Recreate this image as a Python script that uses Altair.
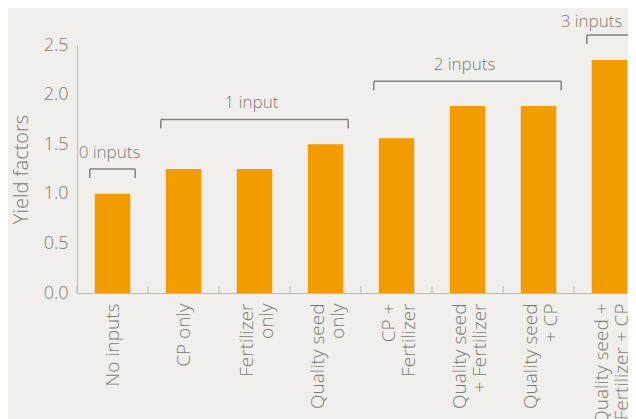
import altair as alt
import pandas as pd

# ---- data ----
categories = [
    "No inputs",
    "CP only",
    "Fertilizer|only",
    "Quality seed|only",
    "CP +|Fertilizer",
    "Quality seed|+ Fertilizer",
    "Quality seed|+ CP",
    "Quality seed +|Fertilizer + CP",
]
yield_factors = [1.0, 1.25, 1.25, 1.5, 1.56, 1.885, 1.885, 2.35]

group_labels = ["0 inputs", "1 input", "2 inputs", "3 inputs"]
group_first = [0, 1, 4, 7]
group_last = [0, 3, 6, 7]

# ---- styling ----
BG = "#F0EFEC"
ORANGE = "#F39C00"
TEXT = "#7D7B72"
AXIS = "#BDBBB5"
BRACKET = "#85837A"
FONT = "Open Sans"

bars_df = pd.DataFrame({"cat": categories, "value": yield_factors})

rows = []
for lab, a, b in zip(group_labels, group_first, group_last):
    lvl = max(yield_factors[a:b + 1]) + 0.25
    rows.append({
        "label": lab,
        "first": categories[a],
        "last": categories[b],
        "mid": categories[(a + b) // 2],
        "level": lvl,
        "tick_end": lvl - 0.09,
    })
groups_df = pd.DataFrame(rows)

xs = alt.Scale(domain=categories, paddingInner=0, paddingOuter=0)
ys = alt.Scale(domain=[0, 2.5])

xaxis = alt.Axis(title=None, labelAngle=-90, labelExpr="split(datum.label, '|')",
                 ticks=False, labelPadding=10, domainColor=AXIS,
                 labelFontSize=19, labelLineHeight=20, labelColor=TEXT,
                 labelFont=FONT, labelFontWeight=300,
                 labelOffset={"condition": {"test": "indexof(datum.value, '|') >= 0", "value": -8},
                              "value": 0})
yaxis = alt.Axis(title="Yield factors", values=[0, 0.5, 1.0, 1.5, 2.0, 2.5],
                 format=".1f", ticks=False, grid=False, domainColor=AXIS,
                 labelFontSize=18, labelColor=TEXT, labelFont=FONT,
                 labelFontWeight=300, labelPadding=9,
                 titleFontSize=20, titleColor=TEXT, titleFont=FONT,
                 titleFontWeight=300, titlePadding=12)

bars = alt.Chart(bars_df).mark_bar(color=ORANGE, width=alt.RelativeBandSize(0.5)).encode(
    x=alt.X("cat:N", scale=xs, sort=categories, axis=xaxis),
    y=alt.Y("value:Q", scale=ys, axis=yaxis),
)

xticks = alt.Chart(bars_df).mark_rule(color=AXIS, strokeWidth=1).encode(
    x=alt.X("cat:N", scale=xs, sort=categories, bandPosition=0, axis=xaxis),
    y=alt.value(248),
    y2=alt.value(241),
)

bracket_h = alt.Chart(groups_df).mark_rule(color=BRACKET, strokeWidth=1.5).encode(
    x=alt.X("first:N", scale=xs, sort=categories, bandPosition=0.18, axis=xaxis),
    x2=alt.X2("last:N", bandPosition=0.82),
    y=alt.Y("level:Q", scale=ys, axis=yaxis),
)

bracket_l = alt.Chart(groups_df).mark_rule(color=BRACKET, strokeWidth=1.5).encode(
    x=alt.X("first:N", scale=xs, sort=categories, bandPosition=0.18, axis=xaxis),
    y=alt.Y("level:Q", scale=ys, axis=yaxis),
    y2="tick_end:Q",
)

bracket_r = alt.Chart(groups_df).mark_rule(color=BRACKET, strokeWidth=1.5).encode(
    x=alt.X("last:N", scale=xs, sort=categories, bandPosition=0.82, axis=xaxis),
    y=alt.Y("level:Q", scale=ys, axis=yaxis),
    y2="tick_end:Q",
)

text_base = alt.Chart(groups_df).encode(
    x=alt.X("mid:N", scale=xs, sort=categories, bandPosition=0.5, axis=xaxis),
    y=alt.Y("level:Q", scale=ys, axis=yaxis),
    text="label:N",
)
text_style = dict(color=TEXT, font=FONT, fontSize=17, fontWeight=300, baseline="alphabetic")

bracket_t = text_base.mark_text(dx=-3, dy=-11, **text_style).transform_filter(
    alt.datum.label != group_labels[-1]
)
bracket_t_last = text_base.mark_text(dx=-18, dy=-8, **text_style).transform_filter(
    alt.datum.label == group_labels[-1]
)

chart = alt.layer(bars, xticks, bracket_h, bracket_l, bracket_r, bracket_t, bracket_t_last).properties(
    width=568,
    height=248,
    autosize=alt.AutoSizeParams(type="none"),
    padding={"left": 69, "top": 37, "right": -17, "bottom": 126},
).configure(background=BG).configure_view(stroke=None)

chart.save("out.html", embed_options={"renderer": "svg", "actions": False})
